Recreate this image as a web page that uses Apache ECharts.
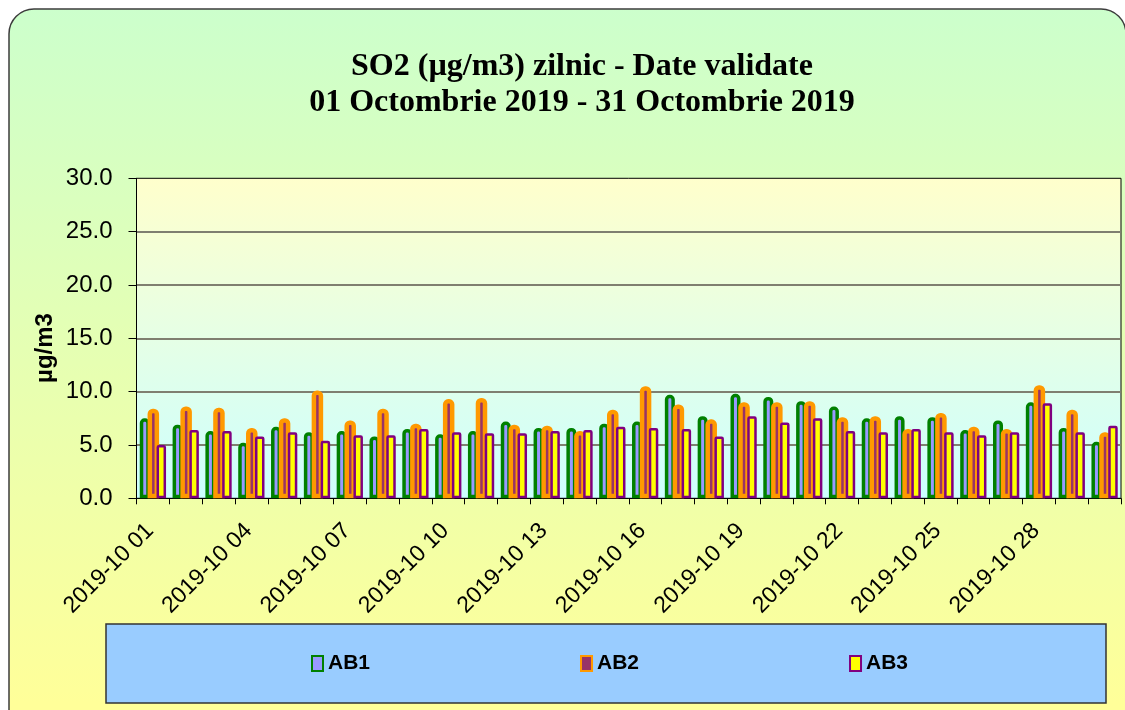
<!DOCTYPE html>
<html>
<head>
<meta charset="utf-8">
<title>SO2 zilnic</title>
<script src="https://cdn.jsdelivr.net/npm/echarts@6/dist/echarts.min.js"></script>
<style>
    html, body { margin: 0; padding: 0; background: #fff; }
    #chart { width: 1125px; height: 710px; }
</style>
</head>
<body>
<div id="chart"></div>
<script>
// zilele lunii (categorii)
var days = ['01', '02', '03', '04', '05', '06', '07', '08', '09', '10',
    '11', '12', '13', '14', '15', '16', '17', '18', '19', '20',
    '21', '22', '23', '24', '25', '26', '27', '28', '29', '30'];
var categories = days.map(function (d) { return '2019-10 ' + d; });

// valori (µg/m3)
var ab1 = [7.5, 6.9, 6.3, 5.2, 6.7, 6.2, 6.3, 5.8, 6.5, 6.0, 6.3, 7.2, 6.6, 6.6, 7.0,
    7.2, 9.7, 7.7, 9.8, 9.5, 9.1, 8.6, 7.5, 7.7, 7.6, 6.4, 7.3, 9.0, 6.6, 5.3];
var ab2 = [8.4, 8.6, 8.5, 6.6, 7.5, 10.1, 7.3, 8.4, 7.0, 9.3, 9.4, 6.9, 6.8, 6.3, 8.3,
    10.5, 8.8, 7.4, 9.0, 9.0, 9.1, 7.6, 7.7, 6.5, 8.0, 6.7, 6.5, 10.6, 8.3, 6.2];
var ab3 = [5.0, 6.4, 6.3, 5.8, 6.2, 5.4, 5.9, 5.9, 6.5, 6.2, 6.1, 6.1, 6.3, 6.4, 6.7,
    6.6, 6.5, 5.8, 7.7, 7.1, 7.5, 6.3, 6.2, 6.5, 6.2, 5.9, 6.2, 8.9, 6.2, 6.8];

var seriesNames = ['AB1', 'AB2', 'AB3'];
var yTicks = { min: 0, max: 30, interval: 5 };

var chart = echarts.init(document.getElementById('chart'), null, { renderer: 'canvas' });

var option = {
    animation: false,
    title: {
        text: 'SO2 (µg/m3) zilnic - Date validate\n01 Octombrie 2019 - 31 Octombrie 2019',
        left: 577,
        top: 44,
        textAlign: 'center',
        textStyle: {
            fontFamily: 'Liberation Serif',
            fontWeight: 'bold',
            fontSize: 32,
            lineHeight: 36,
            color: '#000'
        }
    },
    graphic: [
        {
            // cadrul exterior cu colturi rotunjite
            type: 'rect',
            z: -100,
            shape: { x: 9, y: 9, width: 1117, height: 730, r: 25 },
            style: {
                fill: new echarts.graphic.LinearGradient(0, 0, 0, 1, [
                    { offset: 0, color: '#CCFFCC' },
                    { offset: 0.95, color: '#FFFF99' }
                ]),
                stroke: '#3c3c3c',
                lineWidth: 1.5
            }
        },
        {
            // fundalul legendei
            type: 'rect',
            z: -50,
            shape: { x: 106, y: 624, width: 1000, height: 79 },
            style: { fill: '#99CCFF', stroke: '#333', lineWidth: 1.5 }
        },
        {
            type: 'text',
            x: 45,
            y: 348,
            rotation: Math.PI / 2,
            style: {
                text: 'µg/m3',
                font: 'bold 24px "Liberation Sans", Arial',
                fill: '#000',
                textAlign: 'center',
                textVerticalAlign: 'middle'
            }
        }
    ],
    legend: {
        data: seriesNames,
        left: 311,
        top: 653,
        padding: 0,
        icon: 'rect',
        itemWidth: 11,
        itemHeight: 15,
        itemGap: 210,
        textStyle: {
            fontFamily: 'Liberation Sans',
            fontWeight: 'bold',
            fontSize: 21,
            color: '#000'
        }
    },
    grid: {
        left: 136.5,
        right: 4,
        top: 178.3,
        bottom: 211.7,
        show: true,
        borderColor: '#000',
        borderWidth: 1,
        backgroundColor: new echarts.graphic.LinearGradient(0, 0, 0, 1, [
            { offset: 0, color: '#FFFFCC' },
            { offset: 1, color: '#CCFFFF' }
        ])
    },
    xAxis: {
        type: 'category',
        data: categories,
        boundaryGap: true,
        axisLine: { lineStyle: { color: '#000', width: 1 } },
        axisTick: { show: true, interval: 0, length: 6, lineStyle: { color: '#000' } },
        axisLabel: {
            interval: 2,
            rotate: 45,
            margin: 26,
            padding: [0, 4, 0, 0],
            fontFamily: 'Liberation Sans',
            fontSize: 23,
            color: '#000'
        },
        splitLine: { show: false }
    },
    yAxis: {
        type: 'value',
        min: yTicks.min,
        max: yTicks.max,
        interval: yTicks.interval,
        axisLine: { show: true, lineStyle: { color: '#000', width: 1 } },
        axisTick: { show: true, inside: false, length: 8, lineStyle: { color: '#000' } },
        axisLabel: {
            margin: 24,
            fontFamily: 'Liberation Sans',
            fontSize: 24,
            color: '#000',
            formatter: function (v) { return v.toFixed(1); }
        },
        splitLine: {
            show: true,
            showMinLine: false,
            showMaxLine: false,
            lineStyle: { color: '#7f7f70', width: 2 }
        }
    },
    series: [
        {
            name: 'AB1',
            type: 'bar',
            data: ab1,
            barWidth: 10,
            barGap: '-22%',
            itemStyle: { color: '#9999FF', borderColor: '#008000', borderWidth: 3.5, borderRadius: [3, 3, 0, 0] }
        },
        {
            name: 'AB2',
            type: 'bar',
            data: ab2,
            barWidth: 11.5,
            barGap: '-22%',
            itemStyle: { color: '#993366', borderColor: '#FF9900', borderWidth: 4.5, borderRadius: [3, 3, 0, 0] }
        },
        {
            name: 'AB3',
            type: 'bar',
            data: ab3,
            barWidth: 9.5,
            barGap: '-22%',
            itemStyle: { color: '#FFFF00', borderColor: '#800080', borderWidth: 2.5, borderRadius: [1, 1, 0, 0] }
        }
    ]
};

chart.setOption(option);
</script>
</body>
</html>
